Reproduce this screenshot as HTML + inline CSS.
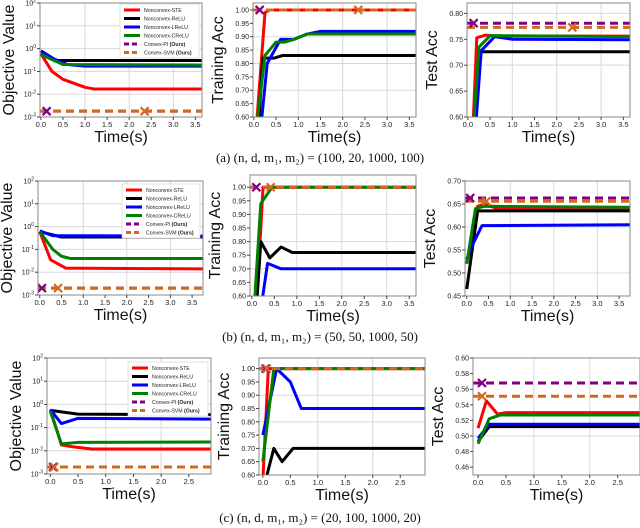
<!DOCTYPE html>
<html><head><meta charset="utf-8"><style>
body{margin:0;background:#fff;}
svg{display:block;font-family:"Liberation Sans",sans-serif;}
</style></head><body>
<svg id="fig" width="640" height="528" viewBox="0 0 640 528"></svg>
<script>
// ---- data (time, value) ----
const a1STE=[[0,0.6],[0.25,0.1],[0.5,0.045],[1.0,0.02],[1.2,0.017],[3.7,0.017]];
const a1ReLU=[[0,0.6],[0.3,0.3],[3.7,0.3]];
const a1LReLU=[[0,0.8],[0.3,0.35],[0.6,0.2],[1.0,0.17],[3.7,0.17]];
const a1CReLU=[[0,0.55],[0.3,0.3],[0.5,0.2],[3.7,0.19]];
const a1Conv=[0.0018,0.0018]; const a1Mark=[0.13,2.35];
const a2STE=[[0.05,0.55],[0.25,0.99],[0.35,1.0],[3.7,1.0]];
const a2ReLU=[[0.1,0.55],[0.2,0.82],[0.45,0.82],[0.65,0.83],[3.7,0.83]];
const a2LReLU=[[0.15,0.55],[0.3,0.8],[0.6,0.89],[0.9,0.89],[1.2,0.91],[1.5,0.92],[3.7,0.92]];
const a2CReLU=[[0.05,0.55],[0.25,0.83],[0.5,0.88],[0.7,0.88],[0.9,0.89],[1.2,0.91],[3.7,0.91]];
const a2Conv=[1.0,1.0]; const a2Mark=[0.13,2.35];
const a3STE=[[0.1,0.55],[0.2,0.753],[0.4,0.758],[0.7,0.756],[3.7,0.756]];
const a3ReLU=[[0.1,0.55],[0.25,0.726],[3.7,0.726]];
const a3LReLU=[[0.15,0.55],[0.3,0.728],[0.6,0.755],[1.0,0.75],[3.7,0.749]];
const a3CReLU=[[0.1,0.55],[0.25,0.735],[0.5,0.757],[3.7,0.755]];
const a3Conv=[0.781,0.773]; const a3Mark=[0.13,2.35];
const b1STE=[[0,0.6],[0.25,0.035],[0.6,0.015],[3.8,0.014]];
const b1ReLU=[[0,0.6],[0.5,0.35],[3.8,0.35]];
const b1LReLU=[[0,0.65],[0.3,0.4],[3.8,0.38]];
const b1CReLU=[[0,0.6],[0.3,0.1],[0.5,0.05],[0.7,0.04],[3.8,0.04]];
const b1Conv=[0.002,0.002]; const b1Mark=[0.05,0.42];
const b2STE=[[0.1,0.55],[0.25,1.0],[3.8,1.0]];
const b2ReLU=[[0.1,0.55],[0.2,0.8],[0.4,0.74],[0.65,0.78],[0.9,0.76],[3.8,0.76]];
const b2LReLU=[[0.2,0.55],[0.35,0.72],[0.65,0.70],[3.8,0.70]];
const b2CReLU=[[0.05,0.55],[0.2,0.94],[0.45,1.0],[3.8,1.0]];
const b2Conv=[1.0,1.0]; const b2Mark=[0.1,0.42];
const b3STE=[[0,0.52],[0.25,0.645],[0.4,0.65],[0.7,0.64],[3.8,0.64]];
const b3ReLU=[[0,0.465],[0.25,0.635],[3.8,0.635]];
const b3LReLU=[[0,0.53],[0.1,0.555],[0.35,0.603],[3.8,0.605]];
const b3CReLU=[[0,0.52],[0.2,0.64],[0.4,0.645],[3.8,0.643]];
const b3Conv=[0.663,0.656]; const b3Mark=[0.08,0.45];
const c1STE=[[0,0.6],[0.2,0.018],[0.4,0.015],[0.75,0.012],[3,0.012]];
const c1ReLU=[[0,0.55],[0.5,0.38],[3,0.36]];
const c1LReLU=[[0,0.6],[0.2,0.15],[0.5,0.25],[3,0.23]];
const c1CReLU=[[0,0.5],[0.2,0.02],[0.5,0.023],[3,0.024]];
const c1Conv=[0.002,0.002]; const c1Mark=[0.05,0.07];
const c2STE=[[0,0.58],[0.1,1.0],[3,1.0]];
const c2ReLU=[[0.05,0.58],[0.2,0.7],[0.35,0.65],[0.55,0.70],[3,0.70]];
const c2LReLU=[[0,0.75],[0.25,1.0],[0.5,0.95],[0.7,0.85],[3,0.85]];
const c2CReLU=[[0,0.65],[0.2,1.0],[3,1.0]];
const c2Conv=[1.0,1.0]; const c2Mark=[0.05,0.07];
const c3STE=[[0,0.51],[0.15,0.545],[0.35,0.528],[0.5,0.53],[3,0.53]];
const c3ReLU=[[0,0.493],[0.2,0.512],[3,0.512]];
const c3LReLU=[[0,0.497],[0.2,0.515],[3,0.515]];
const c3CReLU=[[0,0.49],[0.2,0.522],[0.4,0.527],[3,0.527]];
const c3Conv=[0.568,0.551]; const c3Mark=[0.07,0.07];
const legendLabels=["Nonconvex-STE","Nonconvex-ReLU","Nonconvex-LReLU","Nonconvex-CReLU","Convex-PI","Convex-SVM"];
const xTicksA=[0,0.5,1,1.5,2,2.5,3,3.5];
const xTicksC=[0,0.5,1,1.5,2,2.5];
const logTicks=[-3,-2,-1,0,1,2];
const accTicksA2=[0.6,0.65,0.7,0.75,0.8,0.85,0.9,0.95,1.0];
const accTicksA3=[0.6,0.65,0.7,0.75,0.8];
const accTicksB3=[0.45,0.5,0.55,0.6,0.65,0.7];
const accTicksC3=[0.46,0.48,0.5,0.52,0.54,0.56,0.58,0.6];

const NS="http://www.w3.org/2000/svg";
const svg=document.getElementById('fig');
const COLORS=["#ff0000","#000000","#0000ff","#008000","#800080","#d2691e"];
function mk(tag,attrs,parent){const e=document.createElementNS(NS,tag);for(const k in attrs)e.setAttribute(k,attrs[k]);(parent||svg).appendChild(e);return e;}
let clipN=0;
function panel(id,box,xr,yr,log,xt,yt,ylab,series,conv,marks,grid,legend){
  const g=mk('g',{});
  
  
  const X=v=>box.l+(v-xr[0])/(xr[1]-xr[0])*(box.r-box.l);
  const Y=v=>{const u=log?Math.log10(v):v;return box.b-(u-yr[0])/(yr[1]-yr[0])*(box.b-box.t);};
  mk('rect',{x:box.l,y:box.t,width:box.r-box.l,height:box.b-box.t,fill:'#fff'},g);
  grid.x.forEach(v=>mk('line',{x1:X(v),x2:X(v),y1:box.t,y2:box.b,stroke:'#d8d8d8','stroke-width':1},g));
  grid.y.forEach(v=>{const yy=log?box.b-(v-yr[0])/(yr[1]-yr[0])*(box.b-box.t):Y(v);mk('line',{x1:box.l,x2:box.r,y1:yy,y2:yy,stroke:'#d8d8d8','stroke-width':1},g);});
  const cid='clip'+(clipN++);
  const cp=mk('clipPath',{id:cid},g);mk('rect',{x:box.l,y:box.t,width:box.r-box.l,height:box.b-box.t},cp);
  const pg=mk('g',{'clip-path':'url(#'+cid+')'},g);
  const names=['line-ste','line-relu','line-lrelu','line-crelu'];
  series.forEach((s,i)=>{
    const p=mk('polyline',{points:s.map(d=>X(d[0])+','+Y(d[1])).join(' '),fill:'none',stroke:COLORS[i],'stroke-width':3,'stroke-linejoin':'round'},pg);
    
    
  });
  [0,1].forEach(j=>{
    const yv=Y(conv[j]);
    const l=mk('line',{x1:X(xr[0]),x2:box.r,y1:yv,y2:yv,stroke:COLORS[4+j],'stroke-width':3,'stroke-dasharray':'8,5'},pg);
    
    
  });
  [0,1].forEach(j=>{
    const yv=Y(conv[j]);
    const mx=X(marks[j]);
    const m=mk('path',{d:`M${mx-4},${yv-4}L${mx+4},${yv+4}M${mx-4},${yv+4}L${mx+4},${yv-4}`,stroke:COLORS[4+j],'stroke-width':2.2},pg);
    
    
  });
  mk('rect',{x:box.l,y:box.t,width:box.r-box.l,height:box.b-box.t,fill:'none',stroke:'#888','stroke-width':1},g);
  xt.forEach(v=>{mk('line',{x1:X(v),x2:X(v),y1:box.b,y2:box.b+3,stroke:'#444'},g);
    const t=mk('text',{x:X(v),y:box.b+10,'font-size':7.5,'text-anchor':'middle',fill:'#222'},g);t.textContent=v.toFixed(1);});
  yt.forEach(v=>{const yy=log?box.b-(v-yr[0])/(yr[1]-yr[0])*(box.b-box.t):Y(v);
    mk('line',{x1:box.l-3,x2:box.l,y1:yy,y2:yy,stroke:'#444'},g);
    const t=mk('text',{x:box.l-4,y:yy+2.5,'font-size':7,'text-anchor':'end',fill:'#222'},g);
    if(log){t.textContent='10';const s=mk('tspan',{dy:-3,'font-size':5},t);s.textContent=String(v);}
    else t.textContent=v.toFixed(2);});
  const xl=mk('text',{x:(box.l+box.r)/2,y:box.b+25,'font-size':16,'text-anchor':'middle',fill:'#111'},g);xl.textContent='Time(s)';
  
  const yx=box.l-(log?26:30);
  const yl=mk('text',{x:yx,y:(box.t+box.b)/2,'font-size':16,'text-anchor':'middle',fill:'#111',transform:`rotate(-90 ${yx} ${(box.t+box.b)/2})`},g);yl.textContent=ylab;
  
  if(legend){
    const lg=mk('g',{},g);
    
    mk('rect',{x:legend.x,y:legend.y,width:box.r-3-legend.x,height:54,fill:'#fff',stroke:'#ccc','stroke-width':0.6},lg);
    legendLabels.forEach((lab,i)=>{
      const yy=legend.y+6+i*8.5;
      const ln=mk('line',{x1:legend.x+4,x2:legend.x+20,y1:yy,y2:yy,stroke:COLORS[i],'stroke-width':3,'stroke-dasharray':i>=4?'5,3':'none'},lg);
      
      const t=mk('text',{x:legend.x+24,y:yy+2,'font-size':5.2,fill:'#222'},lg);t.textContent=lab;
      if(i>=4){const b=mk('tspan',{'font-weight':'bold'},t);b.textContent=' (Ours)';}
    });
  }
}
const yGridLog=[-2,-1,0,1];
panel('panel-a-objective',{l:40,t:3,r:202,b:117},[-0.02,3.65],[-3,2],true,xTicksA,logTicks,'Objective Value',[a1STE,a1ReLU,a1LReLU,a1CReLU],a1Conv,a1Mark,{x:[1,2,3],y:yGridLog},{x:120,y:4});
panel('panel-a-train',{l:253,t:3,r:416,b:117},[-0.02,3.65],[0.6,1.026],false,xTicksA,accTicksA2,'Training Acc',[a2STE,a2ReLU,a2LReLU,a2CReLU],a2Conv,a2Mark,{x:[1,2,3],y:[0.7,0.8,0.9,1.0]},null);
panel('panel-a-test',{l:467,t:3,r:630,b:117},[-0.02,3.65],[0.6,0.82],false,xTicksA,accTicksA3,'Test Acc',[a3STE,a3ReLU,a3LReLU,a3CReLU],a3Conv,a3Mark,{x:[1,2,3],y:[0.7,0.8]},null);
panel('panel-b-objective',{l:38,t:181,r:203,b:295},[-0.04,3.75],[-3,2],true,xTicksA,logTicks,'Objective Value',[b1STE,b1ReLU,b1LReLU,b1CReLU],b1Conv,b1Mark,{x:[1,2,3],y:yGridLog},{x:122,y:184});
panel('panel-b-train',{l:250,t:175,r:416,b:296},[-0.04,3.65],[0.6,1.045],false,xTicksA,accTicksA2,'Training Acc',[b2STE,b2ReLU,b2LReLU,b2CReLU],b2Conv,b2Mark,{x:[1,2,3],y:[0.7,0.8,0.9,1.0]},null);
panel('panel-b-test',{l:465,t:181,r:630,b:296},[-0.04,3.75],[0.45,0.70],false,xTicksA,accTicksB3,'Test Acc',[b3STE,b3ReLU,b3LReLU,b3CReLU],b3Conv,b3Mark,{x:[1,2,3],y:[0.5,0.6,0.7]},null);
panel('panel-c-objective',{l:47,t:358,r:211,b:474},[-0.06,2.9],[-3,2],true,xTicksC,logTicks,'Objective Value',[c1STE,c1ReLU,c1LReLU,c1CReLU],c1Conv,c1Mark,{x:[1,2],y:yGridLog},{x:128,y:362});
panel('panel-c-train',{l:259,t:358,r:425,b:475},[-0.07,2.95],[0.6,1.04],false,xTicksC,accTicksA2,'Training Acc',[c2STE,c2ReLU,c2LReLU,c2CReLU],c2Conv,c2Mark,{x:[1,2],y:[0.7,0.8,0.9,1.0]},null);
panel('panel-c-test',{l:473,t:358,r:640,b:475},[-0.09,2.9],[0.45,0.60],false,xTicksC,accTicksC3,'Test Acc',[c3STE,c3ReLU,c3LReLU,c3CReLU],c3Conv,c3Mark,{x:[1,2],y:[0.5,0.6]},null);
const caps=[['(a) (n, d, m₁, m₂) = (100, 20, 1000, 100)',162,'caption-a'],['(b) (n, d, m₁, m₂) = (50, 50, 1000, 50)',341,'caption-b'],['(c) (n, d, m₁, m₂) = (20, 100, 1000, 20)',522,'caption-c']];
caps.forEach(c=>{const t=mk('text',{x:320,y:c[1],'font-size':13,'text-anchor':'middle','font-family':'Liberation Serif, serif',fill:'#111'});t.textContent=c[0];
});
</script>
</body></html>
